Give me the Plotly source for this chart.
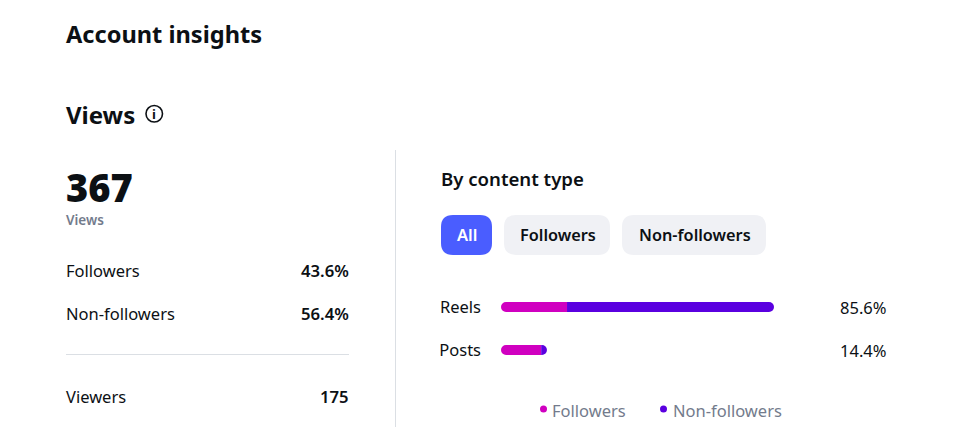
import plotly.graph_objects as go

categories = ["Reels", "Posts"]
followers = [20.7, 12.6]
non_followers = [64.9, 1.8]
totals = ["85.6%", "14.4%"]
series_names = ["Followers", "Non-followers"]
W, H = 961, 427
FONT = "Noto Sans"
INK = "#0c1014"
GRAY = "#737b8c"
PINK = "#d000c0"
PURPLE = "#5a00e0"
SCALE = 273 / 85.6      # pixels per percentage point
CAP = 5 / SCALE         # length of the round left end of a bar

def px(x): return x / W
def py(y): return 1 - y / H

fig = go.Figure()
bar_w = 10 / 43
fig.add_bar(y=categories, x=[-CAP for _ in categories], orientation="h", marker=dict(color=PINK, line_width=0), width=bar_w, showlegend=False, hoverinfo="skip")
fig.add_bar(y=categories, x=[v - CAP for v in followers], orientation="h", name=series_names[0], marker=dict(color=PINK, line_width=0), width=bar_w, showlegend=False, hoverinfo="skip")
fig.add_bar(y=categories, x=non_followers, orientation="h", name=series_names[1], marker=dict(color=PURPLE, line_width=0), width=bar_w, showlegend=False, hoverinfo="skip")

def text(x, y, s, size=16.5, color=INK, weight=400, anchor="left", **kw):
    fig.add_annotation(xref="paper", yref="paper", x=px(x), y=py(y), text=s, showarrow=False, xanchor=anchor, yanchor="middle",
                       font=dict(family=FONT, size=size, color=color, weight=weight), borderpad=0, borderwidth=0, **kw)

def pill(x0, y0, x1, y1, r, fill):
    X = lambda v: f"{px(v):.5f}"
    Y = lambda v: f"{py(v):.5f}"
    path = (f"M {X(x0+r)} {Y(y0)} L {X(x1-r)} {Y(y0)} Q {X(x1)} {Y(y0)} {X(x1)} {Y(y0+r)} "
            f"L {X(x1)} {Y(y1-r)} Q {X(x1)} {Y(y1)} {X(x1-r)} {Y(y1)} L {X(x0+r)} {Y(y1)} "
            f"Q {X(x0)} {Y(y1)} {X(x0)} {Y(y1-r)} L {X(x0)} {Y(y0+r)} Q {X(x0)} {Y(y0)} {X(x0+r)} {Y(y0)} Z")
    fig.add_shape(type="path", path=path, xref="paper", yref="paper", fillcolor=fill, line_width=0, layer="below")

def line(x0, y0, x1, y1, color):
    fig.add_shape(type="line", xref="paper", yref="paper", x0=px(x0), y0=py(y0), x1=px(x1), y1=py(y1), line=dict(color=color, width=1))

def dot(cx, cy, r, color):
    fig.add_shape(type="circle", xref="paper", yref="paper", x0=px(cx - r), y0=py(cy - r), x1=px(cx + r), y1=py(cy + r), fillcolor=color, line_width=0)

text(66, 34, "Account insights", 23.6, INK, 700)
text(66, 114, "Views", 24, INK, 700)
fig.add_shape(type="circle", xref="paper", yref="paper", x0=px(146), y0=py(105.5), x1=px(162.5), y1=py(122), line=dict(color=INK, width=1.6))
text(154.2, 114, "i", 13, INK, 700, "center")
text(66, 187, "367", 38, INK, 900, height=42)
text(66, 219.5, "Views", 13.5, GRAY, 600)
text(66, 270, "Followers")
text(349, 270, "43.6%", 16.7, INK, 600, "right")
text(66, 313, "Non-followers")
text(349, 313, "56.4%", 16.7, INK, 600, "right")
line(66, 354.5, 349, 354.5, "#dbdfe4")
text(66, 396, "Viewers")
text(349, 396, "175", 16.7, INK, 600, "right")
line(395.5, 150, 395.5, 427, "#dbdfe4")
text(441, 178.5, "By content type", 18.6, INK, 600)
pill(441, 215, 492, 255, 12, "#4a5dff")
pill(504, 215, 610, 255, 12, "#f0f1f5")
pill(622, 215, 766, 255, 12, "#f0f1f5")
text(466.5, 235, "All", 16.5, "#ffffff", 600, "center")
text(557.5, 235, "Followers", 16.3, INK, 600, "center")
text(694.5, 235, "Non-followers", 16.3, INK, 600, "center")

for c, t in zip(categories, totals):
    fig.add_annotation(xref="paper", yref="y", x=px(887), y=c, text=t, showarrow=False, xanchor="right",
                       font=dict(family=FONT, size=16.5, color=INK), borderpad=0)

dot(543.5, 409, 3.5, PINK)
text(552, 410, series_names[0], 16.5, GRAY)
dot(663.5, 409, 3.5, PURPLE)
text(673, 410, series_names[1], 16.5, GRAY)

fig.update_layout(
    width=W, height=H, margin=dict(l=0, r=0, t=0, b=0, autoexpand=False), autosize=False,
    paper_bgcolor="white", plot_bgcolor="white", barmode="relative", barcornerradius=5, showlegend=False,
    xaxis=dict(domain=[px(501), px(774)], range=[-CAP, 85.6 - CAP], visible=False),
    yaxis=dict(domain=[py(371.5), py(285.5)], categoryorder="array", categoryarray=categories, range=[1.5, -0.5],
               showgrid=False, zeroline=False, showline=False, ticks="", ticklabelstandoff=19, automargin=False,
               tickfont=dict(family=FONT, size=16.5, color=INK)),
)
fig.write_html("out.html", config=dict(displayModeBar=False), post_script="document.body.style.margin='0';document.body.style.overflow='hidden';")
